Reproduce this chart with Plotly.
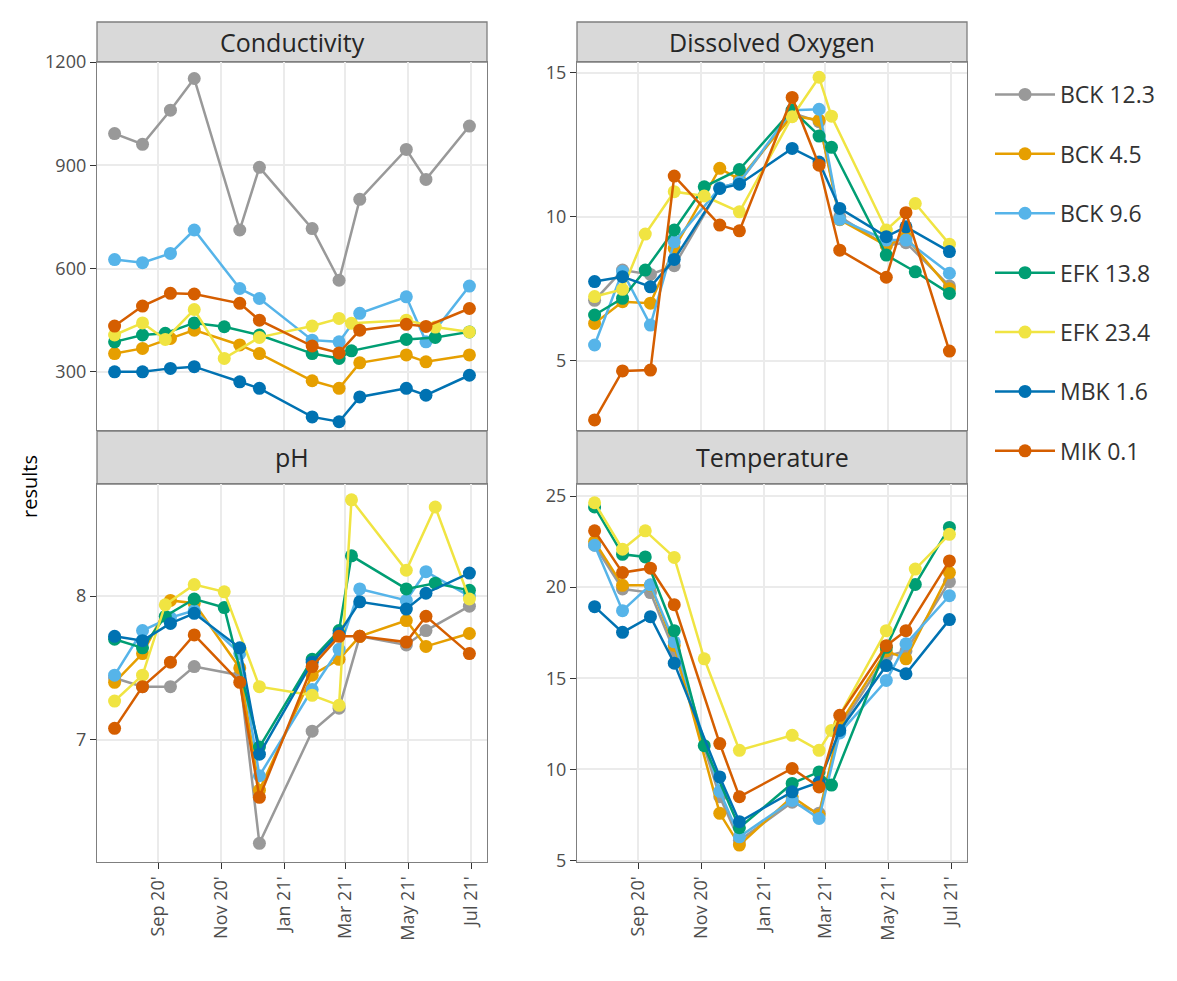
import plotly.graph_objects as go

# the page body has an 8px margin, so the figure is drawn 16px smaller
# and pixel positions below are given in page coordinates
PAGE_W, PAGE_H = 1177, 981
OFF = 8
W, H = PAGE_W - 2 * OFF, PAGE_H - 2 * OFF

sites = ["BCK 12.3", "BCK 4.5", "BCK 9.6", "EFK 13.8", "EFK 23.4", "MBK 1.6", "MIK 0.1"]
site_colors = ["#999999", "#E69F00", "#56B4E9", "#009E73", "#F0E442", "#0072B2", "#D55E00"]
params = ["Conductivity", "Dissolved Oxygen", "pH", "Temperature"]

# sampling dates (EFK sites were visited on a slightly different schedule)
dates_std = ["2020-07-21", "2020-08-17", "2020-09-13", "2020-10-06", "2020-11-19", "2020-12-08",
             "2021-01-28", "2021-02-23", "2021-03-15", "2021-04-29", "2021-05-18", "2021-06-29"]
dates_efk = ["2020-07-21", "2020-08-17", "2020-09-08", "2020-10-06", "2020-11-04", "2020-12-08",
             "2021-01-28", "2021-02-23", "2021-03-07", "2021-04-29", "2021-05-27", "2021-06-29"]
site_dates = {"EFK 13.8": dates_efk, "EFK 23.4": dates_efk}

conductivity = {
    "BCK 12.3": [992, 961, 1060, 1152, 712, 894, 716, 566, 801, 946, 859, 1014],
    "BCK 4.5": [353, 368, 397, 421, 378, 353, 274, 252, 326, 349, 329, 349],
    "BCK 9.6": [626, 617, 644, 712, 542, 513, 392, 387, 470, 518, 387, 549],
    "EFK 13.8": [387, 407, 412, 442, 431, 407, 353, 339, 361, 394, 400, 416],
    "EFK 23.4": [407, 442, 394, 481, 339, 400, 433, 455, 441, 450, 430, 416],
    "MBK 1.6": [300, 300, 310, 315, 271, 252, 169, 155, 227, 252, 232, 290],
    "MIK 0.1": [433, 491, 528, 526, 499, 450, 375, 355, 421, 438, 432, 484],
}
dissolved_oxygen = {
    "BCK 12.3": [7.1, 8.15, 8.0, 8.3, 11.0, 11.2, 13.6, 13.3, 10.0, 9.0, 9.1, 7.6],
    "BCK 4.5": [6.3, 7.05, 7.0, 8.9, 11.68, 11.3, 13.5, 13.35, 9.9, 9.0, 9.3, 7.5],
    "BCK 9.6": [5.55, 8.1, 6.24, 9.13, 11.0, 11.2, 13.7, 13.73, 9.91, 9.19, 9.19, 8.04],
    "EFK 13.8": [6.59, 7.17, 8.15, 9.54, 11.04, 11.64, 13.7, 12.8, 12.41, 8.67, 8.09, 7.34],
    "EFK 23.4": [7.23, 7.48, 9.4, 10.87, 10.72, 10.17, 13.47, 14.84, 13.49, 9.54, 10.46, 9.05],
    "MBK 1.6": [7.75, 7.92, 7.57, 8.52, 10.98, 11.13, 12.37, 11.9, 10.29, 9.31, 9.65, 8.79],
    "MIK 0.1": [2.95, 4.65, 4.68, 11.41, 9.71, 9.51, 14.14, 11.79, 8.84, 7.9, 10.14, 5.34],
}
ph = {
    "BCK 12.3": [7.43, 7.37, 7.37, 7.51, 7.45, 6.28, 7.06, 7.22, 7.72, 7.66, 7.76, 7.93],
    "BCK 4.5": [7.4, 7.6, 7.97, 7.95, 7.5, 6.65, 7.45, 7.56, 7.72, 7.83, 7.65, 7.74],
    "BCK 9.6": [7.45, 7.76, 7.85, 7.9, 7.6, 6.75, 7.35, 7.63, 8.05, 7.97, 8.17, 8.0],
    "EFK 13.8": [7.7, 7.64, 7.86, 7.98, 7.92, 6.95, 7.56, 7.76, 8.28, 8.05, 8.09, 8.04],
    "EFK 23.4": [7.27, 7.45, 7.94, 8.08, 8.03, 7.37, 7.31, 7.24, 8.67, 8.18, 8.62, 7.98],
    "MBK 1.6": [7.72, 7.69, 7.81, 7.88, 7.64, 6.9, 7.54, 7.74, 7.96, 7.91, 8.02, 8.16],
    "MIK 0.1": [7.08, 7.37, 7.54, 7.73, 7.4, 6.6, 7.51, 7.72, 7.72, 7.68, 7.86, 7.6],
}
temperature = {
    "BCK 12.3": [22.3, 19.9, 19.7, 16.5, 8.5, 6.1, 8.2, 7.6, 12.3, 16.2, 16.5, 20.3],
    "BCK 4.5": [22.5, 20.1, 20.1, 16.8, 7.59, 5.85, 8.5, 7.5, 12.5, 16.5, 16.07, 20.8],
    "BCK 9.6": [22.3, 18.71, 20.13, 17.0, 8.8, 6.3, 8.3, 7.31, 12.0, 14.88, 16.89, 19.53],
    "EFK 13.8": [24.4, 21.8, 21.66, 17.61, 11.3, 6.8, 9.23, 9.86, 9.14, 16.7, 20.15, 23.28],
    "EFK 23.4": [24.63, 22.08, 23.09, 21.63, 16.07, 11.05, 11.87, 11.05, 12.14, 17.61, 20.99, 22.9],
    "MBK 1.6": [18.93, 17.52, 18.38, 15.83, 9.59, 7.13, 8.77, 9.3, 12.14, 15.7, 15.25, 18.22],
    "MIK 0.1": [23.09, 20.8, 21.04, 19.04, 11.42, 8.5, 10.05, 9.04, 12.97, 16.79, 17.61, 21.44],
}
param_data = [conductivity, dissolved_oxygen, ph, temperature]

y_ranges = [[131, 1200], [2.6, 15.37], [6.15, 8.78], [4.92, 25.66]]
y_ticks = [[300, 600, 900, 1200], [5, 10, 15], [7, 8], [5, 10, 15, 20, 25]]
x_range = ["2020-07-04", "2021-07-16"]

# panel geometry in page pixels
cols = [(97, 487), (577, 967)]
rows = [(62, 430), (484, 862)]
strip_tops = [22, 431]


def fx(px):
    return (px - OFF) / W


def fy(py):
    return 1 - (py - OFF) / H


fig = go.Figure()

for s, site in enumerate(sites):
    dates = site_dates.get(site, dates_std)
    for p, data in enumerate(param_data):
        suffix = "" if p == 0 else str(p + 1)
        fig.add_trace(go.Scatter(
            x=dates, y=data[site],
            mode="lines+markers",
            line=dict(color=site_colors[s], width=2.5),
            marker=dict(color=site_colors[s], size=13),
            name=site,
            legendgroup=site,
            showlegend=(p == 0),
            xaxis="x" + suffix, yaxis="y" + suffix,
        ))

axis_style = dict(
    showgrid=True, gridcolor="#EBEBEB", gridwidth=1.5,
    showline=True, mirror=True, linecolor="#7F7F7F", linewidth=1.3,
    ticks="outside", ticklen=6, tickcolor="#333333", tickwidth=1.2,
    tickfont=dict(size=18, color="#4D4D4D"), zeroline=False,
    automargin=False,
)

layout = dict()
shapes = []
annotations = []
for p, name in enumerate(params):
    r, c = divmod(p, 2)
    suffix = "" if p == 0 else str(p + 1)
    x0, x1 = cols[c]
    y0, y1 = rows[r]
    layout["xaxis" + suffix] = dict(
        axis_style, domain=[fx(x0), fx(x1)], anchor="y" + suffix,
        type="date", range=x_range, tick0="2020-09-01", dtick="M2",
        tickformat="%b %y'", tickangle=-90,
        showticklabels=(r == 1), ticks="outside" if r == 1 else "",
    )
    layout["yaxis" + suffix] = dict(
        axis_style, domain=[fy(y1), fy(y0)], anchor="x" + suffix,
        range=y_ranges[p], tickvals=y_ticks[p],
    )
    shapes.append(dict(
        type="rect", xref="paper", yref="paper",
        x0=fx(x0), x1=fx(x1), y0=fy(y0), y1=fy(strip_tops[r]),
        fillcolor="#D9D9D9", line=dict(color="#7F7F7F", width=1.3), layer="below",
    ))
    annotations.append(dict(
        text=name, xref="paper", yref="paper",
        x=fx((x0 + x1) / 2), y=fy((y0 + strip_tops[r]) / 2),
        xanchor="center", yanchor="middle", showarrow=False,
        font=dict(size=25, color="#262626"),
    ))

annotations.append(dict(
    text="results", xref="paper", yref="paper", x=fx(30), y=fy(487),
    textangle=-90, showarrow=False, xanchor="center", yanchor="middle",
    font=dict(size=20, color="#000000"),
))

fig.update_layout(
    **layout,
    shapes=shapes,
    annotations=annotations,
    width=W, height=H,
    margin=dict(l=0, r=0, t=0, b=0, pad=0, autoexpand=False),
    paper_bgcolor="white", plot_bgcolor="white",
    font=dict(family="Open Sans, sans-serif"),
    legend=dict(
        x=fx(990), y=fy(73), xanchor="left", yanchor="top",
        font=dict(size=23, color="#333333"),
        tracegroupgap=26.5, itemwidth=60, bgcolor="rgba(0,0,0,0)",
    ),
    hovermode="closest",
)

fig.write_html("out.html")
